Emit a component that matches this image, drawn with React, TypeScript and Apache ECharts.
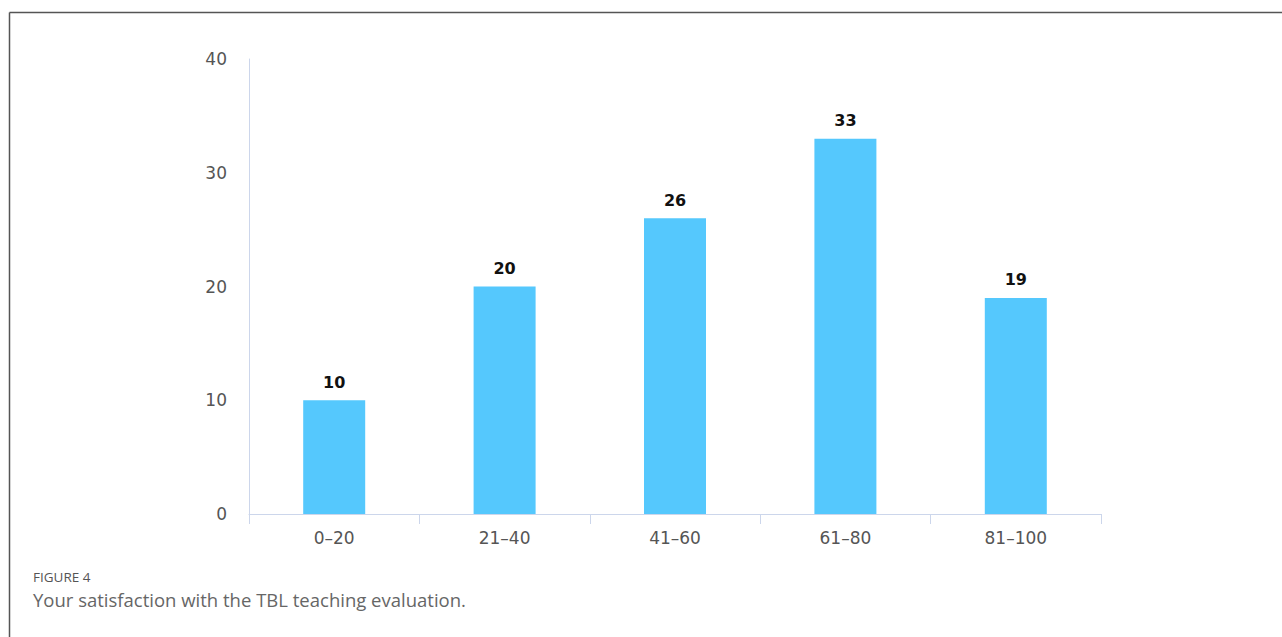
import React, { useEffect, useRef } from "react";
import * as echarts from "echarts";

const categories = ["0–20", "21–40", "41–60", "61–80", "81–100"];
const values = [10, 20, 26, 33, 19];
const yTicks = { min: 0, max: 40, interval: 10 };
const figureLabel = "FIGURE 4";
const caption = "Your satisfaction with the TBL teaching evaluation.";

export default function App() {
  const ref = useRef<HTMLDivElement>(null);
  useEffect(() => {
    if (!ref.current) return;
    const chart = echarts.init(ref.current, undefined, { renderer: "svg" });
    const font = "'DejaVu Sans', Verdana, sans-serif";
    chart.setOption({
      animation: false,
      backgroundColor: "#ffffff",
      grid: { left: 249, right: 181, top: 59, bottom: 123 },
      xAxis: {
        type: "category",
        data: categories,
        axisLine: { lineStyle: { color: "#ccd6eb", width: 1 } },
        axisTick: { show: true, alignWithLabel: false, length: 10, lineStyle: { color: "#ccd6eb" } },
        axisLabel: { color: "#555", fontSize: 17, margin: 15, fontFamily: font },
      },
      yAxis: {
        type: "value",
        min: yTicks.min,
        max: yTicks.max,
        interval: yTicks.interval,
        axisLine: { show: true, lineStyle: { color: "#ccd6eb", width: 1 } },
        axisTick: { show: false },
        splitLine: { show: false },
        axisLabel: { color: "#555", fontSize: 17, margin: 22, fontFamily: font },
      },
      series: [
        {
          type: "bar",
          data: values,
          barWidth: 62,
          itemStyle: { color: "#55c8fd" },
          label: {
            show: true,
            position: "top",
            distance: 10,
            color: "#111",
            fontWeight: "bold",
            fontSize: 16,
            fontFamily: font,
          },
        },
      ],
      graphic: [
        { type: "line", shape: { x1: 9.5, y1: 12.5, x2: 1282, y2: 12.5 }, style: { stroke: "#555", lineWidth: 1.5 } },
        { type: "line", shape: { x1: 9.5, y1: 12.5, x2: 9.5, y2: 637 }, style: { stroke: "#555", lineWidth: 1.5 } },
        {
          type: "text",
          x: 33,
          y: 577,
          style: { text: figureLabel, fill: "#555", fontSize: 13.5, fontFamily: "'Open Sans', sans-serif", fontWeight: 500, verticalAlign: "middle" },
        },
        {
          type: "text",
          x: 33,
          y: 599,
          style: { text: caption, fill: "#666", fontSize: 18.5, fontFamily: "'Open Sans', sans-serif", verticalAlign: "middle" },
        },
      ],
    });
    return () => chart.dispose();
  }, []);
  return <div ref={ref} style={{ position: "absolute", left: 0, top: 0, width: 1282, height: 637 }} />;
}
